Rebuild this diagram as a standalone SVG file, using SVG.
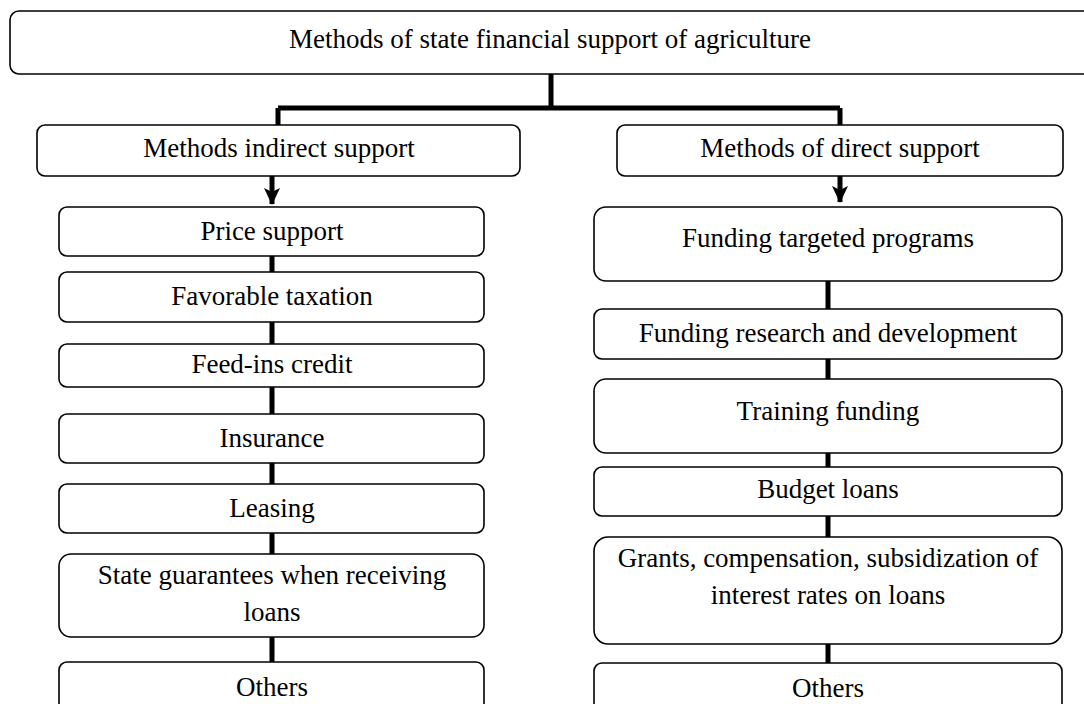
<svg xmlns="http://www.w3.org/2000/svg" width="1084" height="704" viewBox="0 0 1084 704">
<style>
.box{fill:#fff;stroke:#000;stroke-width:1.6}
.t{font-family:"Liberation Serif","Times New Roman",serif;font-size:27px;fill:#000;text-anchor:middle}
.c{fill:none;stroke:#000;stroke-width:5}
</style>
<defs>
<marker id="ah" viewBox="0 0 17 16" refX="16" refY="8" markerWidth="17" markerHeight="16" markerUnits="userSpaceOnUse" orient="auto">
<path d="M0,0 L17,8 L0,16 L4,8 Z" fill="#000"/>
</marker>
</defs>
<rect width="1084" height="704" fill="#fff"/>
<g id="connectors">
<path class="c" d="M551,74 V108 M278,108 H840 M278,108 V125 M840,108 V125"/>
<path class="c" d="M272,176 V204" marker-end="url(#ah)"/>
<path class="c" d="M840,176 V202" marker-end="url(#ah)"/>
<path class="c" d="M272,256 V272 M272,322 V344 M272,387 V414 M272,463 V484 M272,533 V554 M272,637 V662"/>
<path class="c" d="M828,281 V309 M828,359 V379 M828,453 V467 M828,516 V537 M828,644 V663"/>
</g>
<g id="root"><rect class="box" x="10" y="11" width="1085" height="63" rx="9"/><text class="t" x="550" y="48">Methods of state financial support of agriculture</text></g>
<g id="indirect"><rect class="box" x="37" y="125" width="483" height="51" rx="8"/><text class="t" x="279" y="157">Methods indirect support</text></g>
<g id="direct"><rect class="box" x="617" y="125" width="446" height="51" rx="8"/><text class="t" x="840" y="157">Methods of direct support</text></g>
<g id="price"><rect class="box" x="59" y="207" width="425" height="49" rx="8"/><text class="t" x="272" y="240">Price support</text></g>
<g id="tax"><rect class="box" x="59" y="272" width="425" height="50" rx="8"/><text class="t" x="272" y="305">Favorable taxation</text></g>
<g id="feed"><rect class="box" x="59" y="344" width="425" height="43" rx="8"/><text class="t" x="272" y="373">Feed-ins credit</text></g>
<g id="insurance"><rect class="box" x="59" y="414" width="425" height="49" rx="8"/><text class="t" x="272" y="447">Insurance</text></g>
<g id="leasing"><rect class="box" x="59" y="484" width="425" height="49" rx="8"/><text class="t" x="272" y="517">Leasing</text></g>
<g id="guarantees"><rect class="box" x="59" y="554" width="425" height="83" rx="12"/><text class="t" x="272" y="584">State guarantees when receiving</text><text class="t" x="272" y="621">loans</text></g>
<g id="others-left"><rect class="box" x="59" y="662" width="425" height="60" rx="8"/><text class="t" x="272" y="696">Others</text></g>
<g id="targeted"><rect class="box" x="594" y="207" width="468" height="74" rx="12"/><text class="t" x="828" y="247">Funding targeted programs</text></g>
<g id="research"><rect class="box" x="594" y="309" width="468" height="50" rx="8"/><text class="t" x="828" y="342">Funding research and development</text></g>
<g id="training"><rect class="box" x="594" y="379" width="468" height="74" rx="12"/><text class="t" x="828" y="420">Training funding</text></g>
<g id="budget"><rect class="box" x="594" y="467" width="468" height="49" rx="8"/><text class="t" x="828" y="498">Budget loans</text></g>
<g id="grants"><rect class="box" x="594" y="537" width="468" height="107" rx="14"/><text class="t" x="828" y="567">Grants, compensation, subsidization of</text><text class="t" x="828" y="604">interest rates on loans</text></g>
<g id="others-right"><rect class="box" x="594" y="663" width="468" height="60" rx="8"/><text class="t" x="828" y="697">Others</text></g>
</svg>
